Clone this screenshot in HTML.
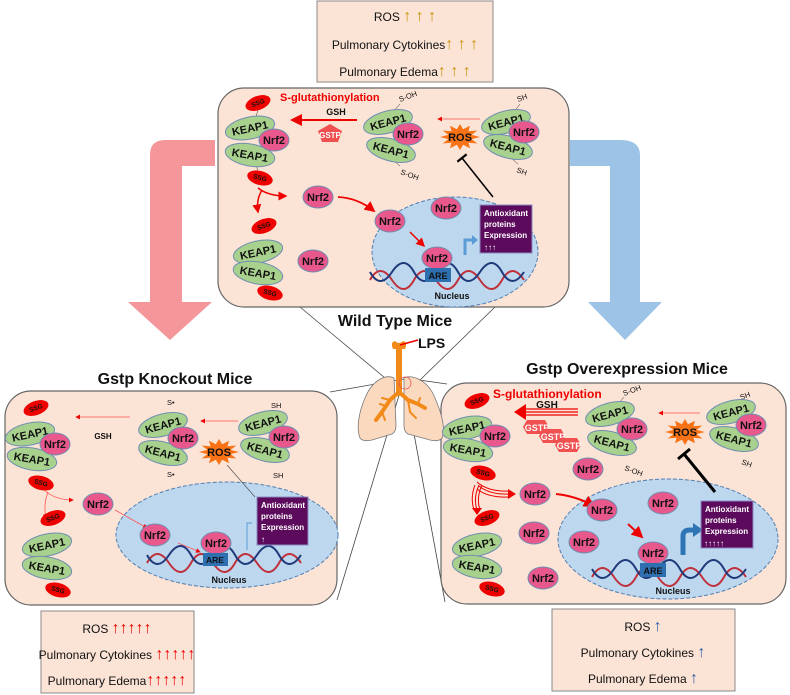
<!DOCTYPE html>
<html><head><meta charset="utf-8"><style>
html,body{margin:0;padding:0;background:#fff}
svg{display:block;font-family:"Liberation Sans",sans-serif}
.k{font-weight:bold;font-size:11px;fill:#111;text-anchor:middle}
.n{font-weight:bold;font-size:11px;fill:#111;text-anchor:middle}
.s{font-weight:bold;font-size:6.5px;fill:#111;text-anchor:middle}
.t{font-size:7.5px;fill:#111}
.box{fill:#fbe3d5;stroke:#888;stroke-width:1}
.bt{font-size:12px;fill:#111;text-anchor:middle}
.up{font-size:16px;font-weight:bold}
.ttl{font-weight:bold;font-size:16px;fill:#111;text-anchor:middle}
.ao{font-weight:bold;font-size:8px;fill:#fff}
</style></head><body>
<svg width="790" height="695" viewBox="0 0 790 695" xmlns="http://www.w3.org/2000/svg">
<defs>
<marker id="ar" markerWidth="6" markerHeight="6" refX="5" refY="3" orient="auto" markerUnits="strokeWidth"><path d="M0,0 L6,3 L0,6 z" fill="#e00"/></marker>
<marker id="tb" markerWidth="4" markerHeight="8" refX="1" refY="4" orient="auto" markerUnits="strokeWidth"><path d="M1,0 L1,8" stroke="#000" stroke-width="1.5"/></marker>
</defs>

<g stroke="#444" stroke-width="0.8" fill="none">
<line x1="300" y1="307" x2="385" y2="378"/>
<line x1="495" y1="307" x2="420" y2="380"/>
<line x1="330" y1="392" x2="410" y2="378"/>
<line x1="337" y1="600" x2="400" y2="392"/>
<line x1="405" y1="378" x2="447" y2="384"/>
<line x1="405" y1="385" x2="445" y2="602"/>
</g>

<rect class="box" x="317" y="1" width="176" height="81"/>
<text class="bt" x="405" y="21">ROS <tspan class="up" fill="#c8960c">↑ ↑ ↑</tspan></text>
<text class="bt" x="405" y="49">Pulmonary Cytokines<tspan class="up" fill="#c8960c">↑ ↑ ↑</tspan></text>
<text class="bt" x="405" y="76">Pulmonary Edema<tspan class="up" fill="#c8960c">↑ ↑ ↑</tspan></text>

<path d="M215,140 L165,140 Q150,140 150,155 L150,302 L128,302 L170,340 L212,302 L182,302 L182,166 L215,166 Z" fill="#f5969a"/>
<path d="M570,140 L620,140 Q640,140 640,155 L640,302 L662,302 L625,340 L588,302 L610,302 L610,166 L570,166 Z" fill="#9dc3e6"/>

<rect x="218" y="88" width="351" height="219" rx="26" fill="#fbe3d5" stroke="#666" stroke-width="1.2"/>
<rect x="5" y="391" width="332" height="214" rx="26" fill="#fbe3d5" stroke="#666" stroke-width="1.2"/>
<rect x="441" y="383" width="345" height="221" rx="26" fill="#fbe3d5" stroke="#666" stroke-width="1.2"/>

<text class="ttl" x="395" y="326">Wild Type Mice</text>
<text class="ttl" x="175" y="384">Gstp Knockout Mice</text>
<text class="ttl" x="627" y="374">Gstp Overexpression Mice</text>

<g>
<path d="M394,378 C386,374 372,380 365,398 C359,412 356,428 360,438 Q363,442 372,440 L392,434 Q396,432 396,425 Z" fill="#fbd9bf" stroke="#777" stroke-width="0.8"/>
<path d="M404,378 C412,374 428,380 435,398 C441,412 446,428 442,438 Q439,442 430,440 L408,434 Q404,432 404,425 Z" fill="#fbd9bf" stroke="#777" stroke-width="0.8"/>
<g stroke="#f28a1a" fill="none" stroke-linecap="round">
<path d="M399,350 L399,393" stroke-width="6"/>
<path d="M399,392 L390,400 L382,412 L376,420" stroke-width="4"/>
<path d="M399,392 L408,400 L418,404 L425,408" stroke-width="4"/>
<path d="M390,400 L382,398 M386,406 L380,404 M382,412 L385,420 M408,400 L410,412 L416,418 M418,404 L420,398" stroke-width="2"/>
</g>
<path d="M393,349 Q390,342 395,341 Q399,345 403,341 Q408,342 405,349 Z" fill="#f28a1a"/>
<circle cx="405" cy="383" r="6" fill="none" stroke="#e55" stroke-width="0.8"/>
<line x1="400" y1="345" x2="418" y2="340" stroke="#e00" stroke-width="1.5"/>
<text x="418" y="348" font-weight="bold" font-size="14" fill="#111">LPS</text>
</g>

<!-- WILD TYPE -->
<text x="280" y="101" font-weight="bold" font-size="11" fill="#e00">S-glutathionylation</text>
<g transform="translate(250,128)">
<line x1="8" y1="-18" x2="5" y2="-8" stroke="#333" stroke-width="0.5"/>
<line x1="5" y1="30" x2="8" y2="45" stroke="#333" stroke-width="0.5"/>
<ellipse cx="8" cy="-25" rx="13" ry="7" transform="rotate(-20 8 -25)" fill="#e00"/><text class="s" x="8" y="-23" transform="rotate(-20 8 -25)">SSG</text>
<ellipse cx="10" cy="50" rx="13" ry="7" transform="rotate(15 10 50)" fill="#e00"/><text class="s" x="10" y="52" transform="rotate(15 10 50)">SSG</text>
<ellipse cx="0" cy="0" rx="25" ry="11" transform="rotate(-12)" fill="#a9d18e" stroke="#6f8fb0"/><text class="k" x="0" y="4" transform="rotate(-12)">KEAP1</text>
<ellipse cx="0" cy="27" rx="25" ry="11" transform="rotate(10 0 27)" fill="#a9d18e" stroke="#6f8fb0"/><text class="k" x="0" y="31" transform="rotate(10 0 27)">KEAP1</text>
<ellipse cx="24" cy="12" rx="15" ry="11" fill="#e9588c" stroke="#6f8fb0"/><text class="n" x="24" y="16">Nrf2</text>
</g>
<line x1="357" y1="120" x2="292" y2="120" stroke="#e00" stroke-width="2" marker-end="url(#ar)"/>
<text x="336" y="115" font-weight="bold" font-size="9" fill="#111" text-anchor="middle">GSH</text>
<polygon points="330,124 342,131 338,142 322,142 318,131" fill="#f05050"/>
<text x="330" y="138" font-weight="bold" font-size="8" fill="#fff" text-anchor="middle">GSTP</text>
<g transform="translate(388,122)">
<line x1="5" y1="-10" x2="12" y2="-18" stroke="#333" stroke-width="0.5"/>
<line x1="5" y1="38" x2="12" y2="44" stroke="#333" stroke-width="0.5"/>
<text class="t" x="12" y="-20" transform="rotate(-20 12 -20)">S-OH</text>
<text class="t" x="12" y="52" transform="rotate(20 12 52)">S-OH</text>
<ellipse cx="0" cy="0" rx="25" ry="11" transform="rotate(-15)" fill="#a9d18e" stroke="#6f8fb0"/><text class="k" x="0" y="4" transform="rotate(-15)">KEAP1</text>
<ellipse cx="3" cy="28" rx="25" ry="11" transform="rotate(15 3 28)" fill="#a9d18e" stroke="#6f8fb0"/><text class="k" x="3" y="32" transform="rotate(15 3 28)">KEAP1</text>
<ellipse cx="20" cy="12" rx="15" ry="11" fill="#e9588c" stroke="#6f8fb0"/><text class="n" x="20" y="16">Nrf2</text>
</g>
<line x1="480" y1="119" x2="438" y2="119" stroke="#f55" stroke-width="0.8" marker-end="url(#ar)"/>
<g transform="translate(460,137)"><polygon points="20,0 11.6,2.1 17.3,6.5 8.5,5.7 10,11.3 3.1,7.7 0,13 -3.1,7.7 -10,11.3 -8.5,5.7 -17.3,6.5 -11.6,2.1 -20,0 -11.6,-2.1 -17.3,-6.5 -8.5,-5.7 -10,-11.3 -3.1,-7.7 0,-13 3.1,-7.7 10,-11.3 8.5,-5.7 17.3,-6.5 11.6,-2.1" fill="#f97316"/><text class="n" x="0" y="4" font-size="10">ROS</text></g>
<g transform="translate(506,122)">
<line x1="8" y1="-10" x2="14" y2="-18" stroke="#333" stroke-width="0.5"/>
<line x1="5" y1="36" x2="12" y2="42" stroke="#333" stroke-width="0.5"/>
<text class="t" x="12" y="-20" transform="rotate(-20 12 -20)">SH</text>
<text class="t" x="10" y="50" transform="rotate(20 10 50)">SH</text>
<ellipse cx="0" cy="0" rx="25" ry="11" transform="rotate(-15)" fill="#a9d18e" stroke="#6f8fb0"/><text class="k" x="0" y="4" transform="rotate(-15)">KEAP1</text>
<ellipse cx="2" cy="25" rx="25" ry="11" transform="rotate(15 2 25)" fill="#a9d18e" stroke="#6f8fb0"/><text class="k" x="2" y="29" transform="rotate(15 2 25)">KEAP1</text>
<ellipse cx="18" cy="10" rx="15" ry="11" fill="#e9588c" stroke="#6f8fb0"/><text class="n" x="18" y="14">Nrf2</text>
</g>
<path d="M258,188 Q268,196 286,196" stroke="#e00" stroke-width="1.5" fill="none" marker-end="url(#ar)"/>
<path d="M262,190 Q256,200 258,212" stroke="#e00" stroke-width="1.5" fill="none" marker-end="url(#ar)"/>
<ellipse cx="318" cy="197" rx="15" ry="11" fill="#e9588c" stroke="#6f8fb0"/><text class="n" x="318" y="201">Nrf2</text>
<ellipse cx="455" cy="252" rx="83" ry="55" fill="#bdd7ee" stroke="#4e7fb5" stroke-dasharray="4,2"/>
<path d="M338,197 Q358,198 374,211" stroke="#e00" stroke-width="1.8" fill="none" marker-end="url(#ar)"/>
<ellipse cx="446" cy="208" rx="15" ry="11" fill="#e9588c" stroke="#6f8fb0"/><text class="n" x="446" y="212">Nrf2</text>
<ellipse cx="390" cy="221" rx="15" ry="11" fill="#e9588c" stroke="#6f8fb0"/><text class="n" x="390" y="225">Nrf2</text>
<line x1="410" y1="232" x2="424" y2="246" stroke="#e00" stroke-width="1.5" marker-end="url(#ar)"/>
<path d="M370,280 Q380,262 392,280 T414,280 T436,280 T458,280 T480,280 T502,280 T524,280" stroke="#c0303a" stroke-width="2" fill="none"/>
<path d="M370,272 Q380,290 392,272 T414,272 T436,272 T458,272 T480,272 T502,272 T524,272" stroke="#1f3a7a" stroke-width="2" fill="none"/>
<ellipse cx="437" cy="258" rx="15" ry="11" fill="#e9588c" stroke="#6f8fb0"/><text class="n" x="437" y="262">Nrf2</text>
<rect x="425" y="268" width="26" height="14" fill="#2e6fb0"/><text x="438" y="279" font-weight="bold" font-size="9" fill="#111" text-anchor="middle">ARE</text>
<text x="452" y="299" font-weight="bold" font-size="9" fill="#111" text-anchor="middle">Nucleus</text>
<path d="M465,255 L465,240 L474,240" stroke="#5b9bd5" stroke-width="3" fill="none"/><path d="M472,235 L478,240 L472,245 z" fill="#5b9bd5"/>
<rect x="480" y="205" width="52" height="48" fill="#5c0a5c" stroke="#8a8ac0"/>
<text class="ao" x="484" y="216">Antioxidant</text><text class="ao" x="484" y="227">proteins</text><text class="ao" x="484" y="238">Expression</text><text class="ao" x="484" y="250" font-size="11">↑↑↑</text>
<line x1="493" y1="197" x2="462" y2="158" stroke="#000" stroke-width="1.5" marker-end="url(#tb)"/>
<g transform="translate(258,252)">
<ellipse cx="6" cy="-26" rx="13" ry="7" transform="rotate(-20 6 -26)" fill="#e00"/><text class="s" x="6" y="-24" transform="rotate(-20 6 -26)">SSG</text>
<ellipse cx="12" cy="41" rx="13" ry="7" transform="rotate(15 12 41)" fill="#e00"/><text class="s" x="12" y="43" transform="rotate(15 12 41)">SSG</text>
<ellipse cx="0" cy="0" rx="25" ry="11" transform="rotate(-12)" fill="#a9d18e" stroke="#6f8fb0"/><text class="k" x="0" y="4" transform="rotate(-12)">KEAP1</text>
<ellipse cx="0" cy="21" rx="25" ry="11" transform="rotate(10 0 21)" fill="#a9d18e" stroke="#6f8fb0"/><text class="k" x="0" y="25" transform="rotate(10 0 21)">KEAP1</text>
</g>
<ellipse cx="313" cy="261" rx="15" ry="11" fill="#e9588c" stroke="#6f8fb0"/><text class="n" x="313" y="265">Nrf2</text>

<!-- KNOCKOUT -->
<g transform="translate(30,434)">
<ellipse cx="6" cy="-26" rx="13" ry="7" transform="rotate(-20 6 -26)" fill="#e00"/><text class="s" x="6" y="-24" transform="rotate(-20 6 -26)">SSG</text>
<ellipse cx="11" cy="49" rx="13" ry="7" transform="rotate(15 11 49)" fill="#e00"/><text class="s" x="11" y="51" transform="rotate(15 11 49)">SSG</text>
<ellipse cx="0" cy="0" rx="25" ry="11" transform="rotate(-12)" fill="#a9d18e" stroke="#6f8fb0"/><text class="k" x="0" y="4" transform="rotate(-12)">KEAP1</text>
<ellipse cx="2" cy="25" rx="25" ry="11" transform="rotate(10 2 25)" fill="#a9d18e" stroke="#6f8fb0"/><text class="k" x="2" y="29" transform="rotate(10 2 25)">KEAP1</text>
<ellipse cx="25" cy="10" rx="15" ry="11" fill="#e9588c" stroke="#6f8fb0"/><text class="n" x="25" y="14">Nrf2</text>
</g>
<line x1="130" y1="417" x2="76" y2="417" stroke="#f55" stroke-width="0.8" marker-end="url(#ar)"/>
<text x="103" y="439" font-weight="bold" font-size="8" fill="#111" text-anchor="middle">GSH</text>
<g transform="translate(163,425)">
<text class="t" x="4" y="-20">S•</text><text class="t" x="4" y="52">S•</text>
<ellipse cx="0" cy="0" rx="25" ry="11" transform="rotate(-15)" fill="#a9d18e" stroke="#6f8fb0"/><text class="k" x="0" y="4" transform="rotate(-15)">KEAP1</text>
<ellipse cx="0" cy="28" rx="25" ry="11" transform="rotate(15 0 28)" fill="#a9d18e" stroke="#6f8fb0"/><text class="k" x="0" y="32" transform="rotate(15 0 28)">KEAP1</text>
<ellipse cx="20" cy="13" rx="15" ry="11" fill="#e9588c" stroke="#6f8fb0"/><text class="n" x="20" y="17">Nrf2</text>
</g>
<line x1="238" y1="421" x2="201" y2="421" stroke="#f55" stroke-width="0.8" marker-end="url(#ar)"/>
<g transform="translate(219,452)"><polygon points="20,0 11.6,2.1 17.3,6.5 8.5,5.7 10,11.3 3.1,7.7 0,13 -3.1,7.7 -10,11.3 -8.5,5.7 -17.3,6.5 -11.6,2.1 -20,0 -11.6,-2.1 -17.3,-6.5 -8.5,-5.7 -10,-11.3 -3.1,-7.7 0,-13 3.1,-7.7 10,-11.3 8.5,-5.7 17.3,-6.5 11.6,-2.1" fill="#f97316"/><text class="n" x="0" y="4" font-size="10">ROS</text></g>
<g transform="translate(263,423)">
<text class="t" x="8" y="-15">SH</text><text class="t" x="10" y="55">SH</text>
<ellipse cx="0" cy="0" rx="25" ry="11" transform="rotate(-15)" fill="#a9d18e" stroke="#6f8fb0"/><text class="k" x="0" y="4" transform="rotate(-15)">KEAP1</text>
<ellipse cx="2" cy="27" rx="25" ry="11" transform="rotate(15 2 27)" fill="#a9d18e" stroke="#6f8fb0"/><text class="k" x="2" y="31" transform="rotate(15 2 27)">KEAP1</text>
<ellipse cx="21" cy="14" rx="15" ry="11" fill="#e9588c" stroke="#6f8fb0"/><text class="n" x="21" y="18">Nrf2</text>
</g>
<path d="M44,490 Q55,500 73,500" stroke="#f55" stroke-width="0.8" fill="none" marker-end="url(#ar)"/>
<path d="M48,492 Q43,505 46,518" stroke="#f55" stroke-width="0.8" fill="none" marker-end="url(#ar)"/>
<ellipse cx="98" cy="504" rx="15" ry="11" fill="#e9588c" stroke="#6f8fb0"/><text class="n" x="98" y="508">Nrf2</text>
<ellipse cx="227" cy="535" rx="111" ry="53" fill="#bdd7ee" stroke="#4e7fb5" stroke-dasharray="4,2"/>
<line x1="115" y1="510" x2="147" y2="528" stroke="#f55" stroke-width="0.8" marker-end="url(#ar)"/>
<ellipse cx="155" cy="535" rx="15" ry="11" fill="#e9588c" stroke="#6f8fb0"/><text class="n" x="155" y="539">Nrf2</text>
<line x1="178" y1="543" x2="200" y2="552" stroke="#f55" stroke-width="0.8" marker-end="url(#ar)"/>
<path d="M147,563 Q157,545 169,563 T191,563 T213,563 T235,563 T257,563 T279,563 T301,563" stroke="#c0303a" stroke-width="2" fill="none"/>
<path d="M147,555 Q157,573 169,555 T191,555 T213,555 T235,555 T257,555 T279,555 T301,555" stroke="#1f3a7a" stroke-width="2" fill="none"/>
<ellipse cx="216" cy="543" rx="15" ry="11" fill="#e9588c" stroke="#6f8fb0"/><text class="n" x="216" y="547">Nrf2</text>
<rect x="203" y="553" width="25" height="13" fill="#2e6fb0"/><text x="215" y="563" font-weight="bold" font-size="8.5" fill="#111" text-anchor="middle">ARE</text>
<text x="229" y="583" font-weight="bold" font-size="9" fill="#111" text-anchor="middle">Nucleus</text>
<path d="M247,550 L247,523 L252,523" stroke="#5b9bd5" stroke-width="1" fill="none"/>
<rect x="257" y="497" width="51" height="48" fill="#5c0a5c" stroke="#8a8ac0"/>
<text class="ao" x="261" y="508">Antioxidant</text><text class="ao" x="261" y="519">proteins</text><text class="ao" x="261" y="530">Expression</text><text class="ao" x="261" y="542" font-size="11">↑</text>
<line x1="255" y1="497" x2="227" y2="465" stroke="#444" stroke-width="0.6"/>
<g transform="translate(47,545)">
<ellipse cx="6" cy="-27" rx="13" ry="7" transform="rotate(-20 6 -27)" fill="#e00"/><text class="s" x="6" y="-25" transform="rotate(-20 6 -27)">SSG</text>
<ellipse cx="11" cy="45" rx="13" ry="7" transform="rotate(15 11 45)" fill="#e00"/><text class="s" x="11" y="47" transform="rotate(15 11 45)">SSG</text>
<ellipse cx="0" cy="0" rx="25" ry="11" transform="rotate(-12)" fill="#a9d18e" stroke="#6f8fb0"/><text class="k" x="0" y="4" transform="rotate(-12)">KEAP1</text>
<ellipse cx="0" cy="23" rx="25" ry="11" transform="rotate(10 0 23)" fill="#a9d18e" stroke="#6f8fb0"/><text class="k" x="0" y="27" transform="rotate(10 0 23)">KEAP1</text>
</g>

<!-- OVEREXPRESSION -->
<text x="493" y="398" font-weight="bold" font-size="12" fill="#e00">S-glutathionylation</text>
<g transform="translate(467,428)">
<ellipse cx="10" cy="-27" rx="13" ry="7" transform="rotate(-20 10 -27)" fill="#e00"/><text class="s" x="10" y="-25" transform="rotate(-20 10 -27)">SSG</text>
<ellipse cx="16" cy="45" rx="13" ry="7" transform="rotate(15 16 45)" fill="#e00"/><text class="s" x="16" y="47" transform="rotate(15 16 45)">SSG</text>
<ellipse cx="0" cy="0" rx="25" ry="11" transform="rotate(-12)" fill="#a9d18e" stroke="#6f8fb0"/><text class="k" x="0" y="4" transform="rotate(-12)">KEAP1</text>
<ellipse cx="1" cy="22" rx="25" ry="11" transform="rotate(10 1 22)" fill="#a9d18e" stroke="#6f8fb0"/><text class="k" x="1" y="26" transform="rotate(10 1 22)">KEAP1</text>
<ellipse cx="28" cy="8" rx="15" ry="11" fill="#e9588c" stroke="#6f8fb0"/><text class="n" x="28" y="12">Nrf2</text>
</g>
<text x="547" y="408" font-weight="bold" font-size="10" fill="#111" text-anchor="middle">GSH</text>
<g stroke="#e00" stroke-width="1.3"><line x1="578" y1="409" x2="522" y2="409"/><line x1="578" y1="412" x2="522" y2="412"/><line x1="578" y1="415" x2="522" y2="415"/></g>
<path d="M526,404 L514,412 L526,420 z" fill="#e00"/>
<polygon points="527,420 545,420 549,427 545,434 527,434 523,427" fill="#f05050"/><text x="537" y="431" font-weight="bold" font-size="9" fill="#fff" text-anchor="middle">GSTP</text>
<polygon points="543,429 561,429 565,436 561,443 543,443 539,436" fill="#f05050"/><text x="553" y="440" font-weight="bold" font-size="9" fill="#fff" text-anchor="middle">GSTP</text>
<polygon points="559,438 577,438 581,445 577,452 559,452 555,445" fill="#f05050"/><text x="569" y="449" font-weight="bold" font-size="9" fill="#fff" text-anchor="middle">GSTP</text>
<ellipse cx="588" cy="469" rx="15" ry="11" fill="#e9588c" stroke="#6f8fb0"/><text class="n" x="588" y="473">Nrf2</text>
<g transform="translate(610,414)">
<line x1="8" y1="-10" x2="14" y2="-17" stroke="#333" stroke-width="0.5"/>
<text class="t" x="14" y="-18" transform="rotate(-20 14 -18)">S-OH</text>
<text class="t" x="14" y="56" transform="rotate(20 14 56)">S-OH</text>
<ellipse cx="0" cy="0" rx="25" ry="11" transform="rotate(-15)" fill="#a9d18e" stroke="#6f8fb0"/><text class="k" x="0" y="4" transform="rotate(-15)">KEAP1</text>
<ellipse cx="2" cy="29" rx="25" ry="11" transform="rotate(15 2 29)" fill="#a9d18e" stroke="#6f8fb0"/><text class="k" x="2" y="33" transform="rotate(15 2 29)">KEAP1</text>
<ellipse cx="22" cy="15" rx="15" ry="11" fill="#e9588c" stroke="#6f8fb0"/><text class="n" x="22" y="19">Nrf2</text>
</g>
<line x1="700" y1="413" x2="659" y2="413" stroke="#f55" stroke-width="0.8" marker-end="url(#ar)"/>
<g transform="translate(685,432)"><polygon points="20,0 11.6,2.1 17.3,6.5 8.5,5.7 10,11.3 3.1,7.7 0,13 -3.1,7.7 -10,11.3 -8.5,5.7 -17.3,6.5 -11.6,2.1 -20,0 -11.6,-2.1 -17.3,-6.5 -8.5,-5.7 -10,-11.3 -3.1,-7.7 0,-13 3.1,-7.7 10,-11.3 8.5,-5.7 17.3,-6.5 11.6,-2.1" fill="#f97316"/><text class="n" x="0" y="4" font-size="10">ROS</text></g>
<g transform="translate(731,412)">
<text class="t" x="10" y="-12" transform="rotate(-20 10 -12)">SH</text>
<text class="t" x="10" y="52" transform="rotate(20 10 52)">SH</text>
<ellipse cx="0" cy="0" rx="25" ry="11" transform="rotate(-15)" fill="#a9d18e" stroke="#6f8fb0"/><text class="k" x="0" y="4" transform="rotate(-15)">KEAP1</text>
<ellipse cx="3" cy="27" rx="25" ry="11" transform="rotate(15 3 27)" fill="#a9d18e" stroke="#6f8fb0"/><text class="k" x="3" y="31" transform="rotate(15 3 27)">KEAP1</text>
<ellipse cx="20" cy="13" rx="15" ry="11" fill="#e9588c" stroke="#6f8fb0"/><text class="n" x="20" y="17">Nrf2</text>
</g>
<g stroke="#e00" stroke-width="1" fill="none">
<path d="M477,482 Q488,492 510,491"/><path d="M479,486 Q490,495 510,494"/><path d="M477,489 Q488,498 510,497"/>
<path d="M475,485 Q470,498 474,510"/><path d="M479,485 Q473,498 477,510"/><path d="M482,485 Q476,498 480,510"/>
</g>
<path d="M508,489 L516,494 L508,499 z" fill="#e00"/><path d="M472,508 L477,515 L482,508 z" fill="#e00"/>
<ellipse cx="535" cy="494" rx="15" ry="11" fill="#e9588c" stroke="#6f8fb0"/><text class="n" x="535" y="498">Nrf2</text>
<ellipse cx="534" cy="533" rx="15" ry="11" fill="#e9588c" stroke="#6f8fb0"/><text class="n" x="534" y="537">Nrf2</text>
<ellipse cx="543" cy="578" rx="15" ry="11" fill="#e9588c" stroke="#6f8fb0"/><text class="n" x="543" y="582">Nrf2</text>
<ellipse cx="668" cy="539" rx="110" ry="60" fill="#bdd7ee" stroke="#4e7fb5" stroke-dasharray="4,2"/>
<path d="M556,494 Q576,496 594,506" stroke="#e00" stroke-width="2" fill="none" marker-end="url(#ar)"/>
<ellipse cx="602" cy="510" rx="15" ry="11" fill="#e9588c" stroke="#6f8fb0"/><text class="n" x="602" y="514">Nrf2</text>
<ellipse cx="663" cy="503" rx="15" ry="11" fill="#e9588c" stroke="#6f8fb0"/><text class="n" x="663" y="507">Nrf2</text>
<ellipse cx="584" cy="542" rx="15" ry="11" fill="#e9588c" stroke="#6f8fb0"/><text class="n" x="584" y="546">Nrf2</text>
<line x1="628" y1="524" x2="642" y2="537" stroke="#e00" stroke-width="2" marker-end="url(#ar)"/>
<path d="M592,577 Q602,559 614,577 T636,577 T658,577 T680,577 T702,577 T724,577 T746,577" stroke="#c0303a" stroke-width="2" fill="none"/>
<path d="M592,569 Q602,587 614,569 T636,569 T658,569 T680,569 T702,569 T724,569 T746,569" stroke="#1f3a7a" stroke-width="2" fill="none"/>
<ellipse cx="653" cy="553" rx="15" ry="11" fill="#e9588c" stroke="#6f8fb0"/><text class="n" x="653" y="557">Nrf2</text>
<rect x="640" y="563" width="26" height="14" fill="#2e6fb0"/><text x="653" y="574" font-weight="bold" font-size="9" fill="#111" text-anchor="middle">ARE</text>
<text x="673" y="594" font-weight="bold" font-size="9" fill="#111" text-anchor="middle">Nucleus</text>
<path d="M683,555 L683,536 Q683,530 690,530 L694,530" stroke="#2e75b6" stroke-width="5" fill="none"/><path d="M693,523 L703,530 L693,537 z" fill="#2e75b6"/>
<rect x="701" y="501" width="52" height="47" fill="#5c0a5c" stroke="#8a8ac0"/>
<text class="ao" x="705" y="512">Antioxidant</text><text class="ao" x="705" y="523">proteins</text><text class="ao" x="705" y="534">Expression</text><text class="ao" x="704" y="546" font-size="11">↑↑↑↑↑</text>
<line x1="715" y1="492" x2="684" y2="454" stroke="#000" stroke-width="3"/>
<line x1="678" y1="459" x2="690" y2="449" stroke="#000" stroke-width="3"/>
<g transform="translate(477,545)">
<ellipse cx="10" cy="-27" rx="13" ry="7" transform="rotate(-20 10 -27)" fill="#e00"/><text class="s" x="10" y="-25" transform="rotate(-20 10 -27)">SSG</text>
<ellipse cx="15" cy="44" rx="13" ry="7" transform="rotate(15 15 44)" fill="#e00"/><text class="s" x="15" y="46" transform="rotate(15 15 44)">SSG</text>
<ellipse cx="0" cy="0" rx="25" ry="11" transform="rotate(-12)" fill="#a9d18e" stroke="#6f8fb0"/><text class="k" x="0" y="4" transform="rotate(-12)">KEAP1</text>
<ellipse cx="0" cy="22" rx="25" ry="11" transform="rotate(10 0 22)" fill="#a9d18e" stroke="#6f8fb0"/><text class="k" x="0" y="26" transform="rotate(10 0 22)">KEAP1</text>
</g>

<!-- bottom boxes -->
<rect class="box" x="41" y="611" width="153" height="82"/>
<text class="bt" x="117" y="633" font-size="11">ROS <tspan class="up" font-size="14" fill="#e00">↑↑↑↑↑</tspan></text>
<text class="bt" x="117" y="659" font-size="11">Pulmonary Cytokines <tspan class="up" font-size="14" fill="#e00">↑↑↑↑↑</tspan></text>
<text class="bt" x="117" y="685" font-size="11">Pulmonary Edema<tspan class="up" font-size="14" fill="#e00">↑↑↑↑↑</tspan></text>
<rect class="box" x="552" y="609" width="183" height="82"/>
<text class="bt" x="643" y="631">ROS <tspan class="up" fill="#2e5fa8">↑</tspan></text>
<text class="bt" x="643" y="657">Pulmonary Cytokines <tspan class="up" fill="#2e5fa8">↑</tspan></text>
<text class="bt" x="643" y="683">Pulmonary Edema <tspan class="up" fill="#2e5fa8">↑</tspan></text>
</svg>
</body></html>
